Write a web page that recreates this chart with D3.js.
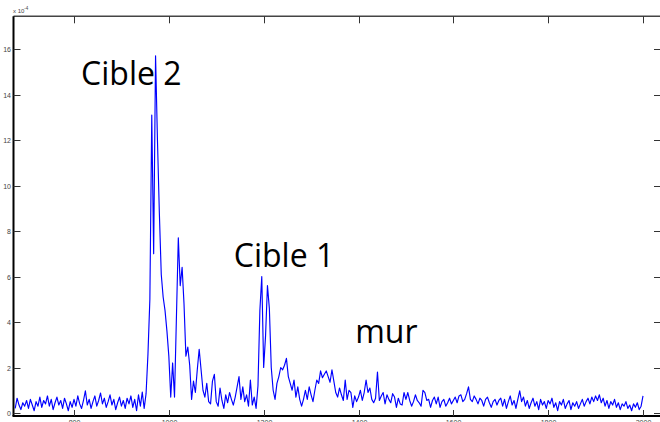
<!DOCTYPE html>
<html>
<head>
<meta charset="utf-8">
<script src="https://cdn.jsdelivr.net/npm/d3@7"></script>
<style>
  html, body { margin: 0; padding: 0; background: #fff; }
  svg { display: block; }
</style>
</head>
<body>
<svg id="chart" width="660" height="422"></svg>
<script>
// Sampling grid of the recorded signal (distance units)
const sampleStart = 676;
const sampleStep = 4;

// Signal amplitude, in units of 1e-4
const signal = [
  // 676 - 952 : background
  0.2, 0.65, 0.35, 0.15, 0.45, 0.3, 0.55, 0.2, 0.6, 0.35,
  0.1, 0.5, 0.3, 0.7, 0.25, 0.55, 0.4, 0.75, 0.3, 0.6,
  0.15, 0.45, 0.7, 0.35, 0.55, 0.2, 0.65, 0.4, 0.1, 0.5,
  0.25, 0.6, 0.3, 0.75, 0.4, 0.2, 0.55, 0.97, 0.35, 0.6,
  0.2, 0.5, 0.75, 0.3, 0.55, 0.88, 0.4, 0.65, 0.25, 0.5,
  0.8, 0.35, 0.6, 0.15, 0.45, 0.7, 0.3, 0.55, 0.2, 0.65,
  0.4, 0.75, 0.25, 0.6, 0.1, 0.8, 0.3, 0.92, 0.2, 0.85,
  // 956 - 1100 : first target echo
  2.6, 5.0, 13.1, 7.0, 15.7, 12.0, 8.8, 6.1, 5.1, 4.5,
  3.6, 2.5, 0.7, 2.2, 0.7, 4.2, 7.7, 5.6, 6.4, 4.8,
  2.5, 2.9, 2.1, 0.6, 1.4, 0.9, 1.9, 2.8, 1.9, 1.0,
  0.7, 1.3, 0.5, 0.4, 1.4, 1.7, 0.5,
  // 1104 - 1184
  0.3, 1.1, 0.55, 0.2, 0.8, 0.45, 0.9, 0.6, 0.35, 0.7,
  1.15, 1.6, 0.6, 1.15, 0.5, 0.8, 0.3, 1.45, 0.35, 0.7,
  0.2,
  // 1188 - 1276 : second target echo
  1.2, 4.5, 6.0, 2.0, 3.4, 5.6, 4.6, 2.0, 1.0, 0.6,
  1.3, 1.6, 2.0, 1.9, 2.1, 2.4, 1.6, 1.3, 1.0, 1.45,
  0.7, 1.15, 0.6,
  // 1280 - 1400 : wall
  0.3, 0.6, 1.0, 0.6, 1.15, 0.8, 0.5, 1.0, 1.45, 1.3,
  1.85, 1.55, 1.7, 1.85, 1.6, 1.35, 1.9, 1.4, 0.9, 0.7,
  1.1, 0.8, 0.55, 1.45, 0.6, 1.0, 0.9, 0.25, 0.75, 0.5,
  0.7,
  // 1404 - 1700
  1.0, 0.55, 0.9, 1.45, 0.9, 1.1, 0.6, 0.45, 0.65, 1.8,
  0.55, 0.75, 0.9, 0.4, 0.8, 0.6, 0.45, 0.85, 0.7, 0.25,
  0.65, 0.4, 0.35, 0.9, 0.6, 0.9, 0.55, 0.3, 0.5, 0.8,
  0.55, 0.45, 0.3, 1.0, 0.9, 0.55, 0.6, 0.25, 0.55, 0.7,
  0.4, 0.7, 0.25, 0.5, 0.6, 0.3, 0.45, 0.65, 0.4, 0.55,
  0.7, 0.45, 0.75, 0.8, 0.5, 0.6, 0.85, 1.15, 0.6, 0.5,
  0.75, 0.6, 0.4, 0.65, 0.55, 0.3, 0.6, 0.7, 0.45, 0.25,
  0.5, 0.6, 0.35, 0.55, 0.65,
  // 1704 - 2000
  0.3, 0.6, 0.2, 0.5, 0.75, 0.35, 0.55, 0.2, 0.6, 0.97,
  0.5, 0.7, 0.3, 0.55, 0.2, 0.45, 0.65, 0.3, 0.5, 0.15,
  0.6, 0.35, 0.5, 0.2, 0.55, 0.4, 0.65, 0.25, 0.45, 0.1,
  0.5, 0.35, 0.6, 0.2, 0.4, 0.55, 0.15, 0.45, 0.3, 0.5,
  0.2, 0.4, 0.6, 0.3, 0.5, 0.65, 0.4, 0.7, 0.5, 0.75,
  0.55, 0.8, 0.45, 0.65, 0.3, 0.55, 0.2, 0.5, 0.35, 0.6,
  0.25, 0.45, 0.15, 0.4, 0.3, 0.5, 0.2, 0.35, 0.1, 0.4,
  0.25, 0.45, 0.15, 0.3, 0.75
];

const xTicks = [800, 1000, 1200, 1400, 1600, 1800, 2000];
const yTicks = [0, 2, 4, 6, 8, 10, 12, 14, 16];

// Text labels placed at (distance, amplitude)
const labelTexts = ["Cible 2", "Cible 1", "mur"];
const labelX = [815, 1137, 1393];
const labelY = [14.42, 6.42, 3.08];

const svg = d3.select("#chart");
const box = { left: 13.5, right: 660, top: 16.3, bottom: 416 };

const x = d3.scaleLinear().domain([800, 2000]).range([74, 643]);
const y = d3.scaleLinear().domain([0, 16]).range([413, 49]);

const points = signal.map((v, i) => [sampleStart + i * sampleStep, v]);

// signal trace
svg.append("path")
  .datum(points)
  .attr("fill", "none")
  .attr("stroke", "#0000ff")
  .attr("stroke-width", 1.15)
  .attr("stroke-linejoin", "round")
  .attr("d", d3.line().x(d => x(d[0])).y(d => y(d[1])));

// frame
svg.append("line")
  .attr("x1", box.left).attr("x2", box.right)
  .attr("y1", box.top).attr("y2", box.top)
  .attr("stroke", "#444").attr("stroke-width", 1.5);
svg.append("line")
  .attr("x1", box.left).attr("x2", box.left)
  .attr("y1", box.top).attr("y2", box.bottom)
  .attr("stroke", "#000").attr("stroke-width", 2);
svg.append("line")
  .attr("x1", box.left - 1).attr("x2", box.right)
  .attr("y1", box.bottom).attr("y2", box.bottom)
  .attr("stroke", "#000").attr("stroke-width", 2);

const tickLen = 6;
const tickColor = "#333";

// x ticks (bottom and top, pointing inward)
const gx = svg.append("g");
xTicks.forEach(t => {
  const px = Math.round(x(t)) + 0.5;
  gx.append("line").attr("x1", px).attr("x2", px)
    .attr("y1", box.bottom).attr("y2", box.bottom - tickLen)
    .attr("stroke", tickColor).attr("stroke-width", 1);
  gx.append("line").attr("x1", px).attr("x2", px)
    .attr("y1", box.top).attr("y2", box.top + tickLen + 1)
    .attr("stroke", tickColor).attr("stroke-width", 1);
  gx.append("text")
    .attr("x", px).attr("y", 425)
    .attr("text-anchor", "middle")
    .attr("font-family", "Liberation Sans, Arial, sans-serif")
    .attr("font-size", 7).attr("fill", "#444")
    .text(t);
});

// y ticks (left and right, pointing inward)
const gy = svg.append("g");
yTicks.forEach(t => {
  const py = Math.round(y(t)) + 0.5;
  gy.append("line").attr("x1", box.left).attr("x2", box.left + tickLen + 1)
    .attr("y1", py).attr("y2", py)
    .attr("stroke", tickColor).attr("stroke-width", 1);
  gy.append("line").attr("x1", box.right).attr("x2", box.right - tickLen)
    .attr("y1", py).attr("y2", py)
    .attr("stroke", tickColor).attr("stroke-width", 1);
  gy.append("text")
    .attr("x", 11).attr("y", py)
    .attr("dy", "0.35em")
    .attr("text-anchor", "end")
    .attr("font-family", "Liberation Sans, Arial, sans-serif")
    .attr("font-size", 7).attr("fill", "#444")
    .text(t);
});

// axis multiplier
const mult = svg.append("text")
  .attr("x", 13).attr("y", 13)
  .attr("font-family", "Liberation Sans, Arial, sans-serif")
  .attr("font-size", 6).attr("fill", "#444");
mult.append("tspan").text("x 10");
mult.append("tspan").attr("dy", -3).attr("font-size", 4.5).text("-4");

// annotations
labelTexts.forEach((txt, i) => {
  svg.append("text")
    .attr("x", x(labelX[i]))
    .attr("y", y(labelY[i]))
    .attr("font-family", "Open Sans, sans-serif")
    .attr("font-size", 32)
    .attr("fill", "#000")
    .text(txt);
});
</script>
</body>
</html>
